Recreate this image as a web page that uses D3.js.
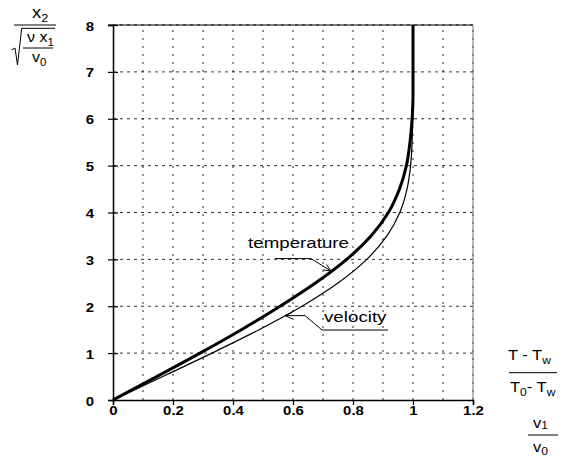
<!DOCTYPE html>
<html>
<head>
<meta charset="utf-8">
<script src="https://cdn.jsdelivr.net/npm/d3@7"></script>
<style>
  body { margin: 0; background: #fff; }
  svg { display: block; }
</style>
</head>
<body>
<svg id="chart" width="565" height="461"></svg>
<script>
// Boundary-layer profiles against the similarity coordinate
const xTicks = [0, 0.2, 0.4, 0.6, 0.8, 1, 1.2];
const xTickLabels = ["0", "0.2", "0.4", "0.6", "0.8", "1", "1.2"];
const xGrid = [0.1, 0.2, 0.3, 0.4, 0.5, 0.6, 0.7, 0.8, 0.9, 1.0, 1.1, 1.2];
const yTicks = [0, 1, 2, 3, 4, 5, 6, 7, 8];
const yGrid = [1, 2, 3, 4, 5, 6, 7, 8];

// similarity coordinate (vertical axis)
const eta = [0, 0.5, 1, 1.5, 2, 2.5, 3, 3.5, 4, 4.5, 5, 5.5, 6, 6.5, 7, 8];
// velocity ratio v1/v0
const velocity = [0, 0.166, 0.330, 0.487, 0.630, 0.751, 0.846, 0.913, 0.956, 0.980, 0.992, 0.997, 0.999, 1, 1, 1];
// temperature ratio (T - Tw)/(T0 - Tw)
const temperature = [0, 0.146, 0.290, 0.428, 0.557, 0.676, 0.779, 0.860, 0.918, 0.955, 0.978, 0.990, 0.997, 1, 1, 1];

const svg = d3.select("#chart");
const x = d3.scaleLinear().domain([0, 1.2]).range([113, 473]);
const y = d3.scaleLinear().domain([0, 8]).range([400, 25]);

const FONT = "'Liberation Sans', Arial, Helvetica, sans-serif";

// text helper with horizontal stretch
function label(g, px, py, str, opt = {}) {
  const t = g.append("text")
    .attr("transform", `translate(${px},${py}) scale(${opt.sx || 1},1)`)
    .attr("font-family", FONT)
    .attr("font-size", opt.size || 15)
    .attr("font-weight", opt.weight || "normal")
    .attr("text-anchor", opt.anchor || "start")
    .attr("fill", "#000");
  if (str !== null) t.text(str);
  return t;
}

// grid
const grid = svg.append("g");
grid.selectAll("line.v").data(xGrid).join("line")
  .attr("x1", d => x(d)).attr("x2", d => x(d))
  .attr("y1", y(0)).attr("y2", y(8))
  .attr("stroke", "#222").attr("stroke-width", 1)
  .attr("stroke-dasharray", "2,6");
grid.selectAll("line.h").data(yGrid).join("line")
  .attr("x1", x(0)).attr("x2", x(1.2))
  .attr("y1", d => y(d)).attr("y2", d => y(d))
  .attr("stroke", "#333").attr("stroke-width", 1)
  .attr("stroke-dasharray", "3,4");

// frame
svg.append("line").attr("x1", x(0) - 5).attr("x2", x(1.2)).attr("y1", y(8)).attr("y2", y(8))
  .attr("stroke", "#000").attr("stroke-width", 1);
svg.append("line").attr("x1", x(1.2)).attr("x2", x(1.2)).attr("y1", y(8)).attr("y2", y(0))
  .attr("stroke", "#777").attr("stroke-width", 1);

// axes
const xAxis = d3.axisBottom(x).tickValues(xTicks).tickSize(5).tickFormat((d, i) => xTickLabels[i]);
const gx = svg.append("g").attr("transform", `translate(0,${y(0)})`).call(xAxis);
gx.select(".domain").attr("stroke", "#000").attr("stroke-width", 1.5);
gx.selectAll(".tick line").attr("stroke", "#000").attr("stroke-width", 1.2);
gx.selectAll(".tick text").remove();
gx.selectAll(".tick").each(function (d, i) {
  label(d3.select(this), 0, 15, xTickLabels[i], { size: 13, weight: "bold", anchor: "middle", sx: 1.15 });
});

const yAxis = d3.axisLeft(y).tickValues(yTicks).tickSize(5);
const gy = svg.append("g").attr("transform", `translate(${x(0)},0)`).call(yAxis);
gy.select(".domain").attr("stroke", "#000").attr("stroke-width", 1.5);
gy.selectAll(".tick line").attr("x1", 5).attr("x2", -5).attr("stroke", "#000").attr("stroke-width", 1.2);
gy.selectAll(".tick text").remove();
gy.selectAll(".tick").each(function (d) {
  label(d3.select(this), -19, 5, String(d), { size: 13, weight: "bold", anchor: "end", sx: 1.15 });
});

// profiles
const line = d3.line().x(d => x(d[0])).y(d => y(d[1])).curve(d3.curveMonotoneY);
svg.append("path").datum(eta.map((e, i) => [velocity[i], e]))
  .attr("d", line).attr("fill", "none").attr("stroke", "#000").attr("stroke-width", 1.2);
svg.append("path").datum(eta.map((e, i) => [temperature[i], e]))
  .attr("d", line).attr("fill", "none").attr("stroke", "#000").attr("stroke-width", 3);

// annotations with leaders
const ann = svg.append("g").attr("fill", "none").attr("stroke", "#000").attr("stroke-width", 1);
function arrowHead(tx, ty, fx, fy) {
  const a = Math.atan2(ty - fy, tx - fx), L = 8, s = 0.4;
  ann.append("path").attr("d",
    `M${tx - L * Math.cos(a - s)},${ty - L * Math.sin(a - s)}L${tx},${ty}L${tx - L * Math.cos(a + s)},${ty - L * Math.sin(a + s)}`);
}
// temperature leader
const tT = [0.727, 2.75];
const tx0 = x(tT[0]), ty0 = y(tT[1]);
ann.append("path").attr("d", `M275,${ty0 - 12.5}H311L${tx0},${ty0}`);
arrowHead(tx0, ty0, 311, ty0 - 12.5);
label(svg, 248, 248, "temperature", { size: 15, sx: 1.25 });

// velocity leader
const vT = [0.573, 1.8];
const vx0 = x(vT[0]), vy0 = y(vT[1]);
ann.append("path").attr("d", `M${vx0},${vy0}H305L322,330H388`);
arrowHead(vx0, vy0, 305, vy0);
label(svg, 324, 322, "velocity", { size: 15, sx: 1.25 });

// vertical axis title
const yl = svg.append("g");
const t1 = label(yl, 32, 18, null, { size: 16, sx: 1.15 });
t1.append("tspan").text("x");
t1.append("tspan").attr("font-size", 11).attr("dy", 4).text("2");
yl.append("line").attr("x1", 14).attr("x2", 56).attr("y1", 25).attr("y2", 25).attr("stroke", "#000").attr("stroke-width", 1);
yl.append("path").attr("d", "M11.7,50L15,48L17.5,65L21.7,28.3H55").attr("fill", "none").attr("stroke", "#000").attr("stroke-width", 1);
const t2 = label(yl, 27, 42, null, { size: 14, sx: 1.15 });
t2.append("tspan").text("ν x");
t2.append("tspan").attr("font-size", 10).attr("dy", 4).text("1");
yl.append("line").attr("x1", 23).attr("x2", 53).attr("y1", 48).attr("y2", 48).attr("stroke", "#000").attr("stroke-width", 1);
const t3 = label(yl, 32, 62, null, { size: 14, sx: 1.15 });
t3.append("tspan").text("v");
t3.append("tspan").attr("font-size", 10).attr("dy", 4).text("0");

// horizontal axis titles
const xl = svg.append("g");
const a1 = label(xl, 508, 360, null, { size: 15, sx: 1.1 });
a1.append("tspan").text("T - T");
a1.append("tspan").attr("font-size", 11).attr("dy", 4).text("w");
xl.append("line").attr("x1", 509).attr("x2", 557).attr("y1", 372.7).attr("y2", 372.7).attr("stroke", "#000").attr("stroke-width", 1);
const a2 = label(xl, 510, 392, null, { size: 15, sx: 1.1 });
a2.append("tspan").text("T");
a2.append("tspan").attr("font-size", 11).attr("dy", 4).text("0");
a2.append("tspan").attr("dy", -4).text("- T");
a2.append("tspan").attr("font-size", 11).attr("dy", 4).text("w");

const b1 = label(xl, 533, 428, null, { size: 15, sx: 1.1 });
b1.append("tspan").text("v");
b1.append("tspan").attr("font-size", 11).attr("dy", 1).text("1");
xl.append("line").attr("x1", 528).attr("x2", 558).attr("y1", 435).attr("y2", 435).attr("stroke", "#000").attr("stroke-width", 1);
const b2 = label(xl, 533, 452, null, { size: 15, sx: 1.1 });
b2.append("tspan").text("v");
b2.append("tspan").attr("font-size", 11).attr("dy", 3).text("0");
</script>
</body>
</html>
